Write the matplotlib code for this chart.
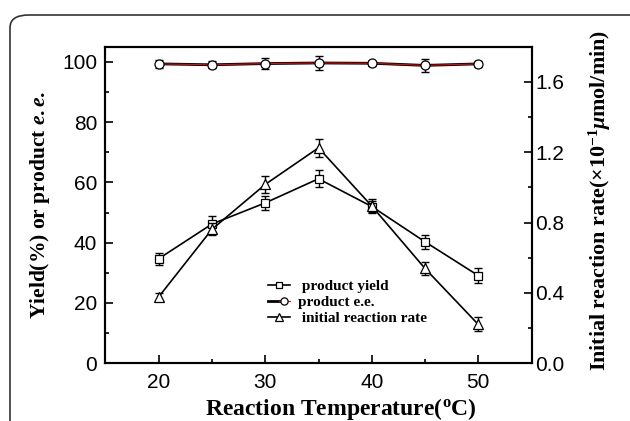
import matplotlib
matplotlib.use('Agg')
import matplotlib.pyplot as plt
from matplotlib.patches import FancyBboxPatch
from matplotlib.ticker import MultipleLocator
from matplotlib.legend_handler import HandlerTuple

temperature = [20, 25, 30, 35, 40, 45, 50]
yield_pct = [34.7, 46.2, 53.2, 61.2, 52.0, 40.3, 29.1]
yield_err = [2.0, 2.8, 2.2, 2.8, 1.8, 2.3, 2.6]
ee_pct = [99.3, 99.0, 99.4, 99.6, 99.5, 98.8, 99.3]
ee_err = [1.3, 1.2, 1.9, 2.4, 0.9, 2.2, 1.0]
rate = [0.378, 0.762, 1.017, 1.225, 0.894, 0.539, 0.221]
rate_err = [0.023, 0.035, 0.05, 0.05, 0.04, 0.038, 0.04]

plt.rcParams['mathtext.fontset'] = 'custom'
plt.rcParams['mathtext.rm'] = 'Liberation Serif:bold'
plt.rcParams['mathtext.it'] = 'Liberation Serif:italic:bold'
plt.rcParams['mathtext.bf'] = 'Liberation Serif:bold'

fig = plt.figure(figsize=(6.3, 4.21), dpi=100)
frame = FancyBboxPatch((10 / 630, -0.1), 1.1, 1.1 - 15 / 421,
                       boxstyle='round,pad=0,rounding_size=0.03',
                       transform=fig.transFigure, fill=False,
                       edgecolor='#333333', lw=1.2)
fig.patches.append(frame)

ax = fig.add_axes([105.5 / 630, 57.7 / 421, 426 / 630, 316.6 / 421])
ax2 = ax.twinx()

sq, = ax.plot(temperature, yield_pct, '-s', color='black', lw=1.2, mfc='white',
              mec='black', ms=6, mew=0.9, zorder=3)
ax.errorbar(temperature, yield_pct, yerr=yield_err, fmt='none', ecolor='black',
            elinewidth=1, capsize=3, capthick=1)
ee_under, = ax.plot(temperature, ee_pct, '-', color='black', lw=2.0)
ci, = ax.plot(temperature, ee_pct, '-o', color='#d01010', lw=0.8, mfc='white',
              mec='black', ms=6.5, mew=0.9, zorder=3)
ax.errorbar(temperature, ee_pct, yerr=ee_err, fmt='none', ecolor='black',
            elinewidth=1, capsize=3, capthick=1)
tr, = ax2.plot(temperature, rate, '-^', color='black', lw=1.2, mfc='white',
               mec='black', ms=7.5, mew=0.9, zorder=3)
ax2.errorbar(temperature, rate, yerr=rate_err, fmt='none', ecolor='black',
             elinewidth=1, capsize=3, capthick=1)

ax.set_xlim(15, 55)
ax.set_ylim(0, 105)
ax2.set_ylim(0, 1.8)
ax.set_xticks([20, 30, 40, 50])
ax.xaxis.set_minor_locator(MultipleLocator(5))
ax.set_yticks([0, 20, 40, 60, 80, 100])
ax.yaxis.set_minor_locator(MultipleLocator(10))
ax2.set_yticks([0.0, 0.4, 0.8, 1.2, 1.6])
ax2.yaxis.set_minor_locator(MultipleLocator(0.2))
ax2.set_yticklabels(['0.0', '0.4', '0.8', '1.2', '1.6'])

for a in (ax, ax2):
    for s in a.spines.values():
        s.set_linewidth(1.5)
ax.tick_params(axis='both', which='major', direction='in', length=5.5, width=1.2,
               labelsize=15, labelfontfamily='Liberation Sans')
ax.tick_params(axis='y', which='major', pad=6)
ax.tick_params(axis='x', which='major', pad=7)
ax.tick_params(axis='both', which='minor', direction='in', length=3, width=1.2)
ax2.tick_params(axis='y', which='major', direction='in', length=5.5, width=1.2,
                labelsize=15, labelfontfamily='Liberation Sans', pad=2.5)
ax2.tick_params(axis='y', which='minor', direction='in', length=3, width=1.2)

lab = dict(fontfamily='Liberation Serif', fontweight='bold')
ax.set_xlabel(r'Reaction Temperature($^{\rm o}$C)', fontsize=17, **lab)
ax.xaxis.set_label_coords(0.553, -0.102)
ax.set_ylabel(r'Yield(%) or product $e.e.$', fontsize=15.5, labelpad=7, **lab)
ax2.set_ylabel(r'Initial reaction rate(×10$^{-1}$$\mu$mol/min)', fontsize=15.8, **lab)
ax2.yaxis.set_label_coords(1.13, 0.515)

ax.legend([sq, (ee_under, ci), tr],
          [' product yield', 'product e.e.', ' initial reaction rate'],
          handler_map={tuple: HandlerTuple(ndivide=None, pad=0)},
          loc='upper left', bbox_to_anchor=(0.381, 0.265), frameon=False,
          borderpad=0, borderaxespad=0,
          handlelength=1.45, handletextpad=0.5, labelspacing=0.15,
          prop={'family': 'Liberation Serif', 'weight': 'bold', 'size': 11},
          markerscale=0.8)

fig.savefig('out.png', dpi=100)
